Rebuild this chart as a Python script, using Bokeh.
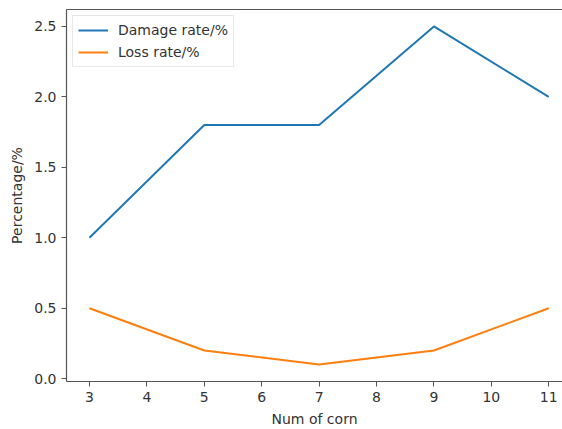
from bokeh.plotting import figure
from bokeh.models import Range1d, LinearAxis, FixedTicker, Legend, LegendItem, CustomJSTickFormatter
from bokeh.embed import file_html
from bokeh.resources import INLINE

num_corn = [3, 5, 7, 9, 11]
damage_rate = [1.0, 1.8, 1.8, 2.5, 2.0]
loss_rate = [0.5, 0.2, 0.1, 0.2, 0.5]
x_ticks = [3, 4, 5, 6, 7, 8, 9, 10, 11]
y_ticks = [0.0, 0.5, 1.0, 1.5, 2.0, 2.5]

FONT = "DejaVu Sans"
TXT = "#333333"

p = figure(width=562, height=429, output_backend="svg", toolbar_location=None,
           x_range=Range1d(2.6, 11.24), y_range=Range1d(-0.02, 2.62),
           min_border_left=66, min_border_right=0, min_border_top=9, min_border_bottom=46,
           x_axis_label="Num of corn", y_axis_label="Percentage/%")
p.outline_line_color = None
p.grid.visible = False
p.background_fill_color = "white"
p.border_fill_color = "white"

for ax in p.axis:
    ax.axis_line_color = "#555555"
    ax.axis_line_width = 1.2
    ax.major_tick_line_color = "#555555"
    ax.major_tick_out = 5
    ax.major_tick_in = 0
    ax.minor_tick_line_color = None
    ax.major_label_text_font = FONT
    ax.major_label_text_font_size = "14px"
    ax.major_label_text_color = TXT
    ax.axis_label_text_font = FONT
    ax.axis_label_text_font_size = "14px"
    ax.axis_label_text_font_style = "normal"
    ax.axis_label_text_color = TXT

p.xaxis.ticker = FixedTicker(ticks=x_ticks)
p.yaxis.ticker = FixedTicker(ticks=y_ticks)
p.xaxis.axis_label_standoff = 6
p.yaxis.axis_label_standoff = 6
p.yaxis.formatter = CustomJSTickFormatter(code="return tick.toFixed(1);")

top = LinearAxis(axis_line_color="#555555", axis_line_width=1.2,
                 major_tick_line_color=None, minor_tick_line_color=None,
                 major_label_text_font_size="0px", ticker=FixedTicker(ticks=[]))
p.add_layout(top, "above")

r1 = p.line(num_corn, damage_rate, line_color="#1f77b4", line_width=2)
r2 = p.line(num_corn, loss_rate, line_color="#ff7f0e", line_width=2)

legend = Legend(items=[LegendItem(label="Damage rate/%", renderers=[r1]),
                       LegendItem(label="Loss rate/%", renderers=[r2])],
                location="top_left")
legend.label_text_font = FONT
legend.label_text_font_size = "14px"
legend.label_text_color = TXT
legend.border_line_color = "#d0d0d0"
legend.border_line_width = 1
legend.glyph_width = 30
legend.glyph_height = 18
legend.label_height = 18
legend.spacing = 4
legend.padding = 5
legend.margin = 6
legend.label_standoff = 10
p.add_layout(legend, "center")

open("out.html", "w").write(file_html(p, INLINE))
